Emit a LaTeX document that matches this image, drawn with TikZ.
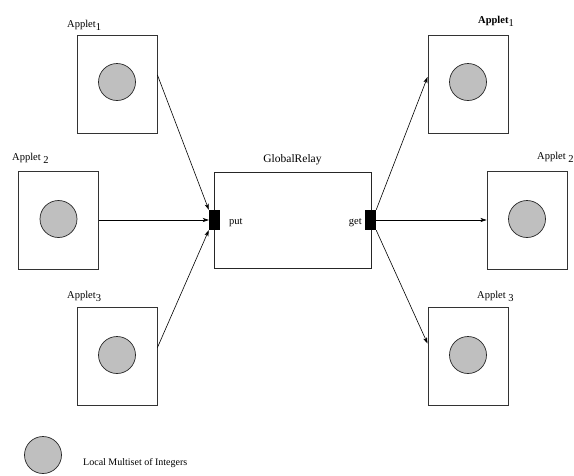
\documentclass[tikz,border=0pt]{standalone}
\usepackage{fontspec}
\setmainfont{Liberation Serif}
\usetikzlibrary{arrows.meta}
\newcommand{\sbs}[1]{\raisebox{-0.7ex}{#1}}
\begin{document}
\begin{tikzpicture}[x=1pt,y=-1pt,
  appletbox/.style={draw=black!80,line width=0.9pt,minimum width=80pt,minimum height=98pt,inner sep=0pt},
  relaybox/.style={draw=black!85,line width=0.9pt,minimum width=157pt,minimum height=96pt,inner sep=0pt},
  store/.style={circle,draw=black!85,line width=0.7pt,fill=black!25,minimum size=37pt,inner sep=0pt},
  port/.style={fill=black,minimum width=11pt,minimum height=20pt,inner sep=0pt},
  lbl/.style={anchor=base west,inner sep=0pt,font=\fontsize{10.5}{12}\selectfont},
  link/.style={line width=0.6pt,-{Stealth[length=6pt,width=4pt,inset=1.5pt]}}]
\useasboundingbox (0,0) rectangle (574,475);

% applets on the left
\node[appletbox] (a1) at (117,84) {};
\node[appletbox] (a2) at (58.5,220) {};
\node[appletbox] (a3) at (117,356.5) {};
\node[store] (c1) at (117,82) {};
\node[store] (c2) at (58.5,219) {};
\node[store] (c3) at (117,355) {};
\node[lbl] (t1) at (67,27) {Applet\sbs{1}};
\node[lbl] (t2) at (12,160) {Applet \sbs{2}};
\node[lbl] (t3) at (67,298) {Applet\sbs{3}};

% relay in the middle
\node[relaybox] (relay) at (292.5,220) {};
\node[anchor=base,inner sep=0pt,font=\fontsize{11.5}{13}\selectfont] (rt) at (292.5,162) {GlobalRelay};
\node[port] (put) at (214.5,220) {};
\node[port] (get) at (370.5,220) {};
\node[lbl] (putl) at (229,224) {put};
\node[lbl,anchor=base east] (getl) at (362,224) {get};

% applets on the right
\node[appletbox] (r1) at (468,84) {};
\node[appletbox] (r2) at (527,220) {};
\node[appletbox] (r3) at (468,356.5) {};
\node[store] (d1) at (468,82) {};
\node[store] (d2) at (527,219) {};
\node[store] (d3) at (468,355) {};
\node[lbl] (u1) at (478,23) {\textbf{Applet}\sbs{1}};
\node[lbl] (u2) at (537,159) {Applet \sbs{2}};
\node[lbl] (u3) at (477,298) {Applet \sbs{3}};

% connectors
\draw[link] ([yshift=9pt]a1.east) -- (put.north west);
\draw[link] (a2.east) -- (put.west);
\draw[link] ([yshift=9pt]a3.east) -- (put.south west);
\draw[link] (get.north east) -- ([yshift=7pt]r1.west);
\draw[link] (get.east) -- (r2.west);
\draw[link] (get.south east) -- ([yshift=13pt]r3.west);

% legend
\node[store] (key) at (43,455) {};
\node[anchor=base west,inner sep=0pt,font=\fontsize{10}{12}\selectfont] (keyl) at (83,465) {Local Multiset of Integers};
\end{tikzpicture}
\end{document}
